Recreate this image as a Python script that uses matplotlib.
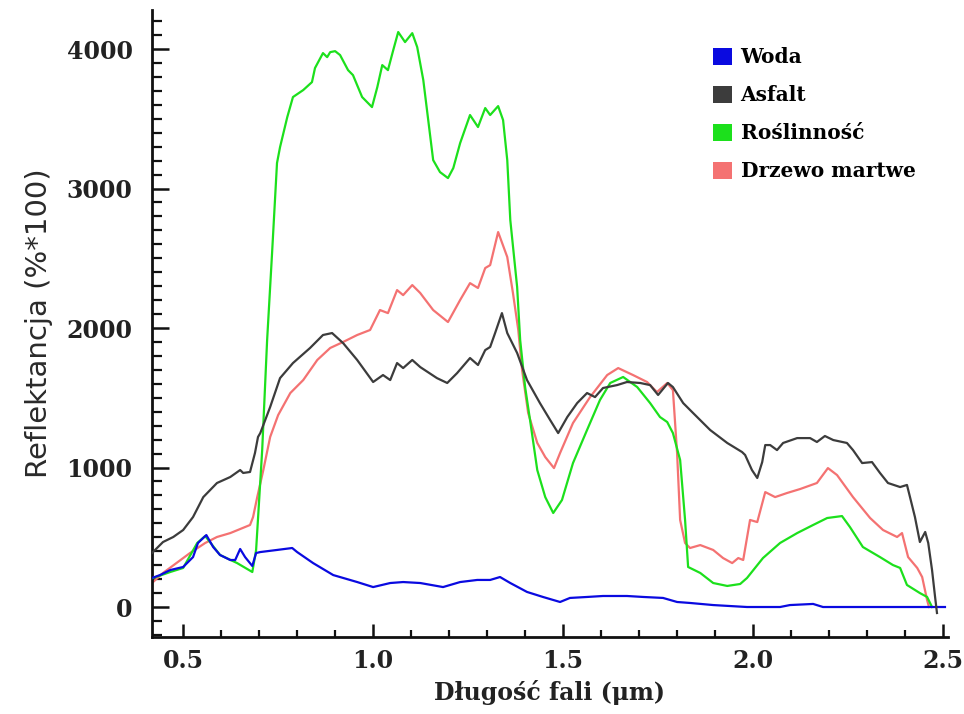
import matplotlib.pyplot as plt
from matplotlib.patches import Patch
from matplotlib.ticker import MultipleLocator

# wavelength [um] and reflectance [%*100]
woda_x = [0.418, 0.439, 0.466, 0.5, 0.526, 0.539, 0.561, 0.579, 0.597, 0.624, 0.637, 0.65, 0.663, 0.682,
          0.692, 0.703, 0.747, 0.787, 0.8, 0.842, 0.895, 0.958, 1.0, 1.045, 1.079, 1.124, 1.184, 1.229,
          1.274, 1.308, 1.334, 1.361, 1.405, 1.447, 1.492, 1.518, 1.563, 1.605, 1.668, 1.711, 1.763,
          1.8, 1.834, 1.895, 1.984, 2.071, 2.097, 2.158, 2.184, 2.474, 2.505]
woda_y = [208, 229, 265, 287, 358, 459, 516, 430, 373, 337, 337, 416, 358, 294,
          387, 394, 409, 423, 394, 315, 229, 179, 143, 172, 179, 172, 143, 179,
          194, 194, 215, 172, 108, 72, 36, 65, 72, 79, 79, 72, 65,
          36, 29, 14, 0, 0, 14, 22, 0, 0, 0]

asfalt_x = [0.418, 0.447, 0.474, 0.5, 0.526, 0.553, 0.589, 0.624, 0.65, 0.658, 0.676, 0.689, 0.697, 0.703,
            0.729, 0.755, 0.789, 0.834, 0.868, 0.892, 0.921, 0.958, 1.0, 1.026, 1.045, 1.063, 1.079,
            1.103, 1.124, 1.168, 1.195, 1.221, 1.255, 1.276, 1.295, 1.308, 1.321, 1.339, 1.353, 1.379,
            1.405, 1.439, 1.466, 1.487, 1.511, 1.537, 1.563, 1.584, 1.605, 1.642, 1.668, 1.703, 1.729,
            1.75, 1.776, 1.789, 1.816, 1.842, 1.887, 1.932, 1.971, 1.979, 1.997, 2.011, 2.024, 2.032,
            2.045, 2.063, 2.079, 2.116, 2.15, 2.168, 2.189, 2.211, 2.247, 2.263, 2.287, 2.313, 2.334,
            2.355, 2.387, 2.405, 2.413, 2.426, 2.439, 2.453, 2.461, 2.471, 2.479, 2.484]
asfalt_y = [387, 466, 502, 552, 645, 788, 889, 932, 982, 961, 968, 1104, 1219, 1247,
            1434, 1641, 1749, 1857, 1950, 1964, 1892, 1771, 1613, 1663, 1627, 1749, 1713,
            1771, 1720, 1641, 1606, 1677, 1785, 1735, 1842, 1864, 1964, 2107, 1964, 1821,
            1627, 1462, 1340, 1247, 1362, 1462, 1534, 1505, 1570, 1591, 1613, 1606, 1591,
            1520, 1606, 1577, 1462, 1391, 1269, 1176, 1111, 1090, 982, 925, 1039, 1161,
            1161, 1125, 1176, 1211, 1211, 1183, 1226, 1197, 1176, 1125, 1032, 1039, 961,
            889, 860, 875, 788, 645, 466, 538, 459, 265, 72, -43]

rosl_x = [0.421, 0.466, 0.5, 0.537, 0.558, 0.597, 0.642, 0.682, 0.692, 0.708, 0.721, 0.734, 0.747, 0.755,
          0.774, 0.789, 0.816, 0.839, 0.847, 0.868, 0.879, 0.887, 0.9, 0.913, 0.934, 0.947, 0.971,
          0.997, 1.011, 1.024, 1.039, 1.053, 1.066, 1.084, 1.103, 1.116, 1.132, 1.145, 1.158, 1.176,
          1.197, 1.211, 1.229, 1.255, 1.276, 1.295, 1.308, 1.329, 1.342, 1.353, 1.361, 1.379, 1.387,
          1.4, 1.413, 1.432, 1.453, 1.474, 1.497, 1.526, 1.563, 1.597, 1.624, 1.658, 1.695, 1.729,
          1.755, 1.774, 1.789, 1.808, 1.821, 1.829, 1.861, 1.895, 1.932, 1.966, 1.984, 2.026, 2.071,
          2.116, 2.158, 2.195, 2.234, 2.255, 2.289, 2.334, 2.368, 2.387, 2.405, 2.439, 2.458, 2.471]
rosl_y = [208, 251, 280, 459, 509, 373, 315, 251, 409, 1125, 1914, 2537, 3183, 3297,
          3512, 3656, 3706, 3763, 3864, 3971, 3942, 3978, 3985, 3957, 3849, 3813, 3656,
          3584, 3727, 3885, 3849, 3993, 4122, 4050, 4114, 4014, 3778, 3491, 3204, 3118,
          3075, 3147, 3326, 3527, 3441, 3577, 3527, 3591, 3491, 3204, 2774, 2294, 1914,
          1577, 1340, 982, 788, 674, 767, 1032, 1269, 1484, 1606, 1649, 1577, 1462,
          1362, 1326, 1247, 1054, 624, 287, 244, 172, 151, 165, 208, 351, 459,
          530, 588, 638, 652, 573, 430, 358, 301, 280, 158, 100, 72, 0]

drzewo_x = [0.418, 0.447, 0.518, 0.558, 0.589, 0.624, 0.65, 0.676, 0.684, 0.695, 0.711, 0.729, 0.75, 0.782,
            0.816, 0.853, 0.887, 0.921, 0.958, 0.992, 1.018, 1.039, 1.063, 1.079, 1.103, 1.124, 1.132,
            1.158, 1.197, 1.229, 1.255, 1.276, 1.295, 1.308, 1.329, 1.353, 1.368, 1.382, 1.392, 1.408,
            1.432, 1.453, 1.476, 1.492, 1.526, 1.571, 1.616, 1.645, 1.684, 1.721, 1.747, 1.774, 1.789,
            1.8, 1.808, 1.821, 1.834, 1.861, 1.895, 1.921, 1.945, 1.961, 1.974, 1.992, 2.011, 2.032,
            2.058, 2.089, 2.124, 2.168, 2.197, 2.221, 2.263, 2.308, 2.342, 2.379, 2.392, 2.408, 2.432,
            2.445, 2.458, 2.463]
drzewo_y = [172, 244, 387, 459, 502, 530, 559, 588, 645, 788, 982, 1219, 1376, 1534,
            1627, 1771, 1857, 1900, 1950, 1986, 2129, 2107, 2272, 2236, 2308, 2251, 2222,
            2129, 2043, 2201, 2322, 2287, 2430, 2451, 2688, 2509, 2251, 1986, 1699, 1391,
            1176, 1075, 996, 1104, 1319, 1505, 1663, 1713, 1663, 1613, 1541, 1606, 1555,
            1104, 624, 459, 423, 444, 409, 351, 315, 351, 337, 624, 609, 824,
            788, 817, 846, 889, 996, 946, 788, 638, 552, 502, 530, 358, 280,
            215, 50, 0]

labels = ["Woda", "Asfalt", "Roślinność", "Drzewo martwe"]
colors = ["#0a0ae0", "#3c3c3c", "#1ce01c", "#f47272"]

fig = plt.figure(figsize=(9.64, 7.14), dpi=100)
ax = fig.add_axes([152 / 964, 1 - 637 / 714, (948 - 152) / 964, (637 - 10) / 714])

ax.plot(drzewo_x, drzewo_y, color=colors[3], lw=1.6, zorder=2)
ax.plot(rosl_x, rosl_y, color=colors[2], lw=1.6, zorder=3)
ax.plot(woda_x, woda_y, color=colors[0], lw=1.6, zorder=4)
ax.plot(asfalt_x, asfalt_y, color=colors[1], lw=1.6, zorder=5)

ax.set_xlim(0.418, 2.513)
ax.set_ylim(-215, 4280)

for s in ["top", "right"]:
    ax.spines[s].set_visible(False)
for s in ["left", "bottom"]:
    ax.spines[s].set_linewidth(2)
    ax.spines[s].set_color("#111111")

ax.xaxis.set_major_locator(MultipleLocator(0.5))
ax.xaxis.set_minor_locator(MultipleLocator(0.1))
ax.yaxis.set_major_locator(MultipleLocator(1000))
ax.yaxis.set_minor_locator(MultipleLocator(100))
ax.set_xticks([0.5, 1.0, 1.5, 2.0, 2.5])
ax.set_xticklabels(["0.5", "1.0", "1.5", "2.0", "2.5"])

ax.tick_params(axis="y", which="major", direction="in", length=12, width=1.8, pad=14, color="#111111")
ax.tick_params(axis="y", which="minor", direction="in", length=7, width=1.6, color="#111111")
ax.tick_params(axis="x", which="major", direction="in", length=9.5, width=1.8, pad=9, color="#111111")
ax.tick_params(axis="x", which="minor", direction="in", length=5, width=1.6, color="#111111")
for lab in ax.get_xticklabels() + ax.get_yticklabels():
    lab.set_fontfamily("DejaVu Serif")
    lab.set_fontweight("bold")
    lab.set_fontsize(17)
    lab.set_color("#222222")

ax.set_xlabel("Długość fali (μm)", family="DejaVu Serif", weight="bold", size=17, color="#222222", labelpad=5)
ax.set_ylabel("Reflektancja (%*100)", family="DejaVu Sans", size=21, color="#2a2a2a", labelpad=10)

handles = [Patch(facecolor=c, edgecolor="none") for c in colors]
leg = fig.legend(handles, labels, loc="upper left", bbox_to_anchor=(713 / 964, 1 - 47 / 714),
                 frameon=False, prop=dict(family="DejaVu Serif", weight="bold", size=14.5),
                 handlelength=0.92, handleheight=0.92, handletextpad=0.45, labelspacing=0.9,
                 borderpad=0, borderaxespad=0)

fig.savefig("out.png", dpi=100)
